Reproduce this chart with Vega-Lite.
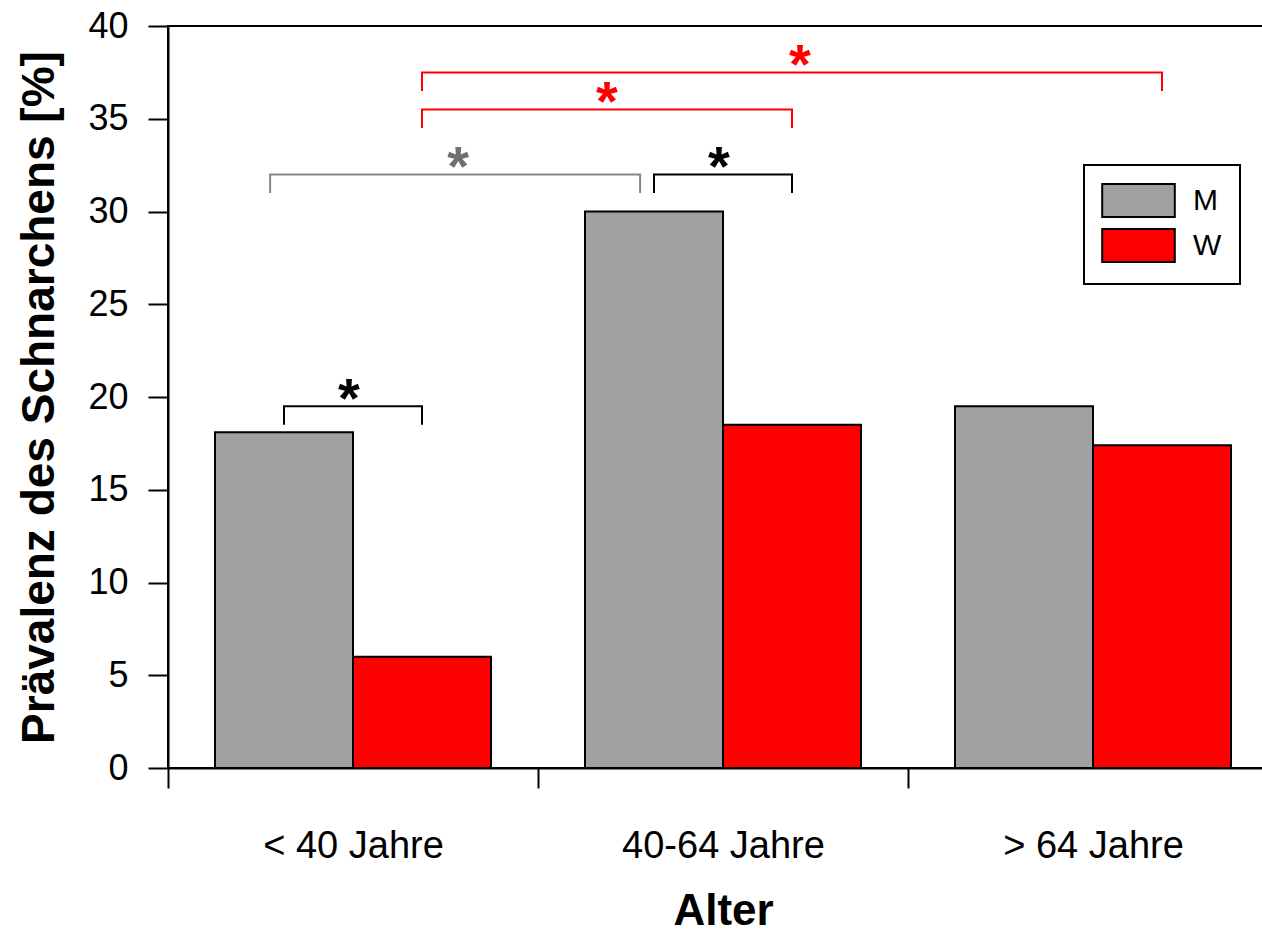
{
  "$schema": "https://vega.github.io/schema/vega-lite/v6.json",
  "autosize": {"type": "none"},
  "padding": {"left": 168, "top": 26, "right": 10, "bottom": 164},
  "width": 1110,
  "height": 742,
  "background": "white",
  "config": {
    "font": "Liberation Sans",
    "view": {"stroke": "black", "strokeWidth": 2},
    "axis": {
      "domainColor": "black",
      "domainWidth": 2,
      "tickColor": "black",
      "tickWidth": 2,
      "tickSize": 20,
      "labelColor": "black",
      "labelFont": "Liberation Sans",
      "labelLimit": 0,
      "titleColor": "black",
      "titleFont": "Liberation Sans",
      "titleFontWeight": "bold",
      "grid": false
    },
    "legend": {
      "strokeColor": "black",
      "strokeWidth": 2,
      "fillColor": "white",
      "padding": 18,
      "symbolStrokeColor": "black",
      "symbolStrokeWidth": 2,
      "symbolOpacity": 1
    }
  },
  "datasets": {
    "praevalenz": [
      {"Alter": "< 40 Jahre", "Geschlecht": "M", "Wert": 18.1},
      {"Alter": "< 40 Jahre", "Geschlecht": "W", "Wert": 6.0},
      {"Alter": "40-64 Jahre", "Geschlecht": "M", "Wert": 30.0},
      {"Alter": "40-64 Jahre", "Geschlecht": "W", "Wert": 18.5},
      {"Alter": "> 64 Jahre", "Geschlecht": "M", "Wert": 19.5},
      {"Alter": "> 64 Jahre", "Geschlecht": "W", "Wert": 17.4}
    ],
    "klammern": [
      {"Vergleich": "< 40 Jahre: M vs W", "Typ": "M vs W", "Alter": "< 40 Jahre", "Geschlecht": "M", "Wert": 18.5, "Punkt": 1},
      {"Vergleich": "< 40 Jahre: M vs W", "Typ": "M vs W", "Alter": "< 40 Jahre", "Geschlecht": "M", "Wert": 19.5, "Punkt": 2},
      {"Vergleich": "< 40 Jahre: M vs W", "Typ": "M vs W", "Alter": "< 40 Jahre", "Geschlecht": "W", "Wert": 19.5, "Punkt": 3},
      {"Vergleich": "< 40 Jahre: M vs W", "Typ": "M vs W", "Alter": "< 40 Jahre", "Geschlecht": "W", "Wert": 18.5, "Punkt": 4},
      {"Vergleich": "40-64 Jahre: M vs W", "Typ": "M vs W", "Alter": "40-64 Jahre", "Geschlecht": "M", "Wert": 31, "Punkt": 1},
      {"Vergleich": "40-64 Jahre: M vs W", "Typ": "M vs W", "Alter": "40-64 Jahre", "Geschlecht": "M", "Wert": 32, "Punkt": 2},
      {"Vergleich": "40-64 Jahre: M vs W", "Typ": "M vs W", "Alter": "40-64 Jahre", "Geschlecht": "W", "Wert": 32, "Punkt": 3},
      {"Vergleich": "40-64 Jahre: M vs W", "Typ": "M vs W", "Alter": "40-64 Jahre", "Geschlecht": "W", "Wert": 31, "Punkt": 4},
      {"Vergleich": "M: < 40 vs 40-64 Jahre", "Typ": "M", "Alter": "< 40 Jahre", "Geschlecht": "M", "Wert": 31, "Punkt": 1},
      {"Vergleich": "M: < 40 vs 40-64 Jahre", "Typ": "M", "Alter": "< 40 Jahre", "Geschlecht": "M", "Wert": 32, "Punkt": 2},
      {"Vergleich": "M: < 40 vs 40-64 Jahre", "Typ": "M", "Alter": "40-64 Jahre", "Geschlecht": "M", "Wert": 32, "Punkt": 3},
      {"Vergleich": "M: < 40 vs 40-64 Jahre", "Typ": "M", "Alter": "40-64 Jahre", "Geschlecht": "M", "Wert": 31, "Punkt": 4},
      {"Vergleich": "W: < 40 vs 40-64 Jahre", "Typ": "W", "Alter": "< 40 Jahre", "Geschlecht": "W", "Wert": 34.5, "Punkt": 1},
      {"Vergleich": "W: < 40 vs 40-64 Jahre", "Typ": "W", "Alter": "< 40 Jahre", "Geschlecht": "W", "Wert": 35.5, "Punkt": 2},
      {"Vergleich": "W: < 40 vs 40-64 Jahre", "Typ": "W", "Alter": "40-64 Jahre", "Geschlecht": "W", "Wert": 35.5, "Punkt": 3},
      {"Vergleich": "W: < 40 vs 40-64 Jahre", "Typ": "W", "Alter": "40-64 Jahre", "Geschlecht": "W", "Wert": 34.5, "Punkt": 4},
      {"Vergleich": "W: < 40 vs > 64 Jahre", "Typ": "W", "Alter": "< 40 Jahre", "Geschlecht": "W", "Wert": 36.5, "Punkt": 1},
      {"Vergleich": "W: < 40 vs > 64 Jahre", "Typ": "W", "Alter": "< 40 Jahre", "Geschlecht": "W", "Wert": 37.5, "Punkt": 2},
      {"Vergleich": "W: < 40 vs > 64 Jahre", "Typ": "W", "Alter": "> 64 Jahre", "Geschlecht": "W", "Wert": 37.5, "Punkt": 3},
      {"Vergleich": "W: < 40 vs > 64 Jahre", "Typ": "W", "Alter": "> 64 Jahre", "Geschlecht": "W", "Wert": 36.5, "Punkt": 4}
    ],
    "sterne": [
      {"Vergleich": "< 40 Jahre: M vs W", "Typ": "M vs W", "Alter": "< 40 Jahre", "Wert": 19.5, "Signifikanz": "*"},
      {"Vergleich": "40-64 Jahre: M vs W", "Typ": "M vs W", "Alter": "40-64 Jahre", "Wert": 32, "Signifikanz": "*"},
      {"Vergleich": "M: < 40 vs 40-64 Jahre", "Typ": "M", "Alter": "< 40 Jahre", "Wert": 32, "Signifikanz": "*"},
      {"Vergleich": "W: < 40 vs 40-64 Jahre", "Typ": "W", "Alter": "40-64 Jahre", "Wert": 35.5, "Signifikanz": "*"},
      {"Vergleich": "W: < 40 vs > 64 Jahre", "Typ": "W", "Alter": "40-64 Jahre", "Wert": 37.5, "Signifikanz": "*"}
    ]
  },
  "encoding": {
    "x": {
      "field": "Alter", "type": "nominal",
      "sort": ["< 40 Jahre", "40-64 Jahre", "> 64 Jahre"],
      "scale": {"paddingInner": 0, "paddingOuter": 0},
      "title": "Alter",
      "axis": {
        "labelAngle": 0,
        "labelFontSize": 38,
        "labelPadding": 39,
        "labelLimit": 0,
        "tickBand": "extent",
        "titleFontSize": 44,
        "titleBaseline": "top",
        "titleY": 121
      }
    },
    "y": {
      "field": "Wert", "type": "quantitative",
      "scale": {"domain": [0, 40]},
      "title": "Prävalenz des Schnarchens [%]",
      "axis": {
        "values": [0, 5, 10, 15, 20, 25, 30, 35, 40],
        "labelFontSize": 36,
        "labelPadding": 20,
        "titleFontSize": 46,
        "titleBaseline": "alphabetic",
        "titleX": -115
      }
    }
  },
  "layer": [
    {
      "data": {"name": "praevalenz"},
      "mark": {"type": "bar", "stroke": "black", "strokeWidth": 2},
      "encoding": {
        "xOffset": {"field": "Geschlecht", "type": "nominal", "sort": ["M", "W"], "scale": {"paddingInner": 0, "paddingOuter": 0.3406}},
        "color": {
          "field": "Geschlecht", "type": "nominal",
          "scale": {"domain": ["M", "W"], "range": ["#a0a0a0", "#ff0000"]},
          "legend": {
            "title": null,
            "orient": "none",
            "legendX": 916,
            "legendY": 139,
            "symbolType": "M-2.2,-1H2.2V1H-2.2Z",
            "symbolSize": 1089,
            "symbolOffset": 19,
            "labelOffset": 37,
            "labelFontSize": 30,
            "labelColor": "black",
            "labelFont": "Liberation Sans",
            "rowPadding": 4,
            "padding": 18,
            "strokeColor": "black",
            "fillColor": "white"
          }
        }
      }
    },
    {
      "data": {"name": "klammern"},
      "transform": [{"filter": "datum.Typ === 'M vs W'"}],
      "mark": {"type": "line", "stroke": "black", "strokeWidth": 2},
      "encoding": {
        "xOffset": {"field": "Geschlecht", "type": "nominal", "sort": ["M", "W"], "scale": {"paddingInner": 0, "paddingOuter": 0.3406}},
        "detail": {"field": "Vergleich", "type": "nominal"},
        "order": {"field": "Punkt", "type": "quantitative"}
      }
    },
    {
      "data": {"name": "klammern"},
      "transform": [{"filter": "datum.Typ === 'M'"}],
      "mark": {"type": "line", "stroke": "#868686", "strokeWidth": 2},
      "encoding": {
        "x": {"field": "Alter", "type": "nominal", "sort": ["< 40 Jahre", "40-64 Jahre", "> 64 Jahre"], "bandPosition": 0.276, "title": "Alter"},
        "detail": {"field": "Vergleich", "type": "nominal"},
        "order": {"field": "Punkt", "type": "quantitative"}
      }
    },
    {
      "data": {"name": "klammern"},
      "transform": [{"filter": "datum.Typ === 'W'"}],
      "mark": {"type": "line", "stroke": "#ff0000", "strokeWidth": 2},
      "encoding": {
        "xOffset": {"field": "Geschlecht", "type": "nominal", "sort": ["M", "W"], "scale": {"paddingInner": 0, "paddingOuter": 0.3406}},
        "detail": {"field": "Vergleich", "type": "nominal"},
        "order": {"field": "Punkt", "type": "quantitative"}
      }
    },
    {
      "data": {"name": "sterne"},
      "transform": [{"filter": "datum.Typ === 'M vs W'"}],
      "mark": {"type": "text", "font": "Liberation Sans", "fontWeight": "bold", "fontSize": 56, "align": "center", "baseline": "alphabetic", "dy": 11, "dx": -4, "color": "black"},
      "encoding": {
        "text": {"field": "Signifikanz"}
      }
    },
    {
      "data": {"name": "sterne"},
      "transform": [{"filter": "datum.Typ === 'M'"}],
      "mark": {"type": "text", "font": "Liberation Sans", "fontWeight": "bold", "fontSize": 56, "align": "center", "baseline": "alphabetic", "dy": 11, "color": "#707070"},
      "encoding": {
        "x": {"field": "Alter", "type": "nominal", "sort": ["< 40 Jahre", "40-64 Jahre", "> 64 Jahre"], "bandPosition": 0.784, "title": "Alter"},
        "text": {"field": "Signifikanz"}
      }
    },
    {
      "data": {"name": "sterne"},
      "transform": [{"filter": "datum.Vergleich === 'W: < 40 vs 40-64 Jahre'"}],
      "mark": {"type": "text", "font": "Liberation Sans", "fontWeight": "bold", "fontSize": 56, "align": "center", "baseline": "alphabetic", "dy": 11, "color": "#ff0000"},
      "encoding": {
        "x": {"field": "Alter", "type": "nominal", "sort": ["< 40 Jahre", "40-64 Jahre", "> 64 Jahre"], "bandPosition": 0.186, "title": "Alter"},
        "text": {"field": "Signifikanz"}
      }
    },
    {
      "data": {"name": "sterne"},
      "transform": [{"filter": "datum.Vergleich === 'W: < 40 vs > 64 Jahre'"}],
      "mark": {"type": "text", "font": "Liberation Sans", "fontWeight": "bold", "fontSize": 56, "align": "center", "baseline": "alphabetic", "dy": 11, "color": "#ff0000"},
      "encoding": {
        "x": {"field": "Alter", "type": "nominal", "sort": ["< 40 Jahre", "40-64 Jahre", "> 64 Jahre"], "bandPosition": 0.708, "title": "Alter"},
        "text": {"field": "Signifikanz"}
      }
    }
  ]
}
